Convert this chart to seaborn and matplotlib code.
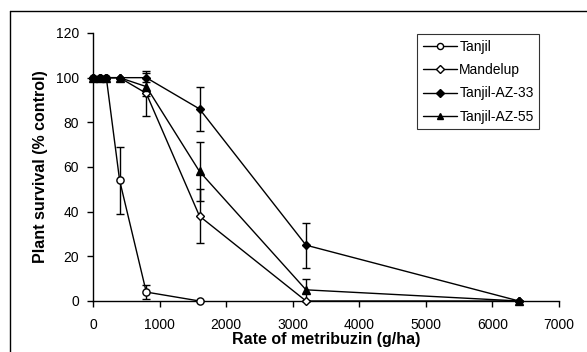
import matplotlib
matplotlib.use("Agg")
import matplotlib.pyplot as plt
import seaborn as sns
import pandas as pd
from matplotlib.lines import Line2D

# ---- data ----
rates_tanjil = [0, 100, 200, 400, 800, 1600]
tanjil = [100, 100, 100, 54, 4, 0]
tanjil_err = [0, 0, 0, 15, 3, 0]

rates = [0, 100, 200, 400, 800, 1600, 3200, 6400]
mandelup = [100, 100, 100, 100, 93, 38, 0, 0]
mandelup_err = [0, 0, 0, 0, 10, 12, 0, 0]
az33 = [100, 100, 100, 100, 100, 86, 25, 0]
az33_err = [0, 0, 0, 0, 2, 10, 10, 0]
az55 = [100, 100, 100, 100, 96, 58, 5, 0]
az55_err = [0, 0, 0, 0, 4, 13, 5, 0]

series_names = ["Tanjil", "Mandelup", "Tanjil-AZ-33", "Tanjil-AZ-55"]
x_ticks = [0, 1000, 2000, 3000, 4000, 5000, 6000, 7000]
y_ticks = [0, 20, 40, 60, 80, 100, 120]

sns.set_theme(style="white")
plt.rcParams["font.family"] = ["Liberation Sans", "DejaVu Sans"]
plt.rcParams["text.color"] = "black"
plt.rcParams["axes.labelcolor"] = "black"

fig = plt.figure(figsize=(5.87, 3.52), dpi=100)
ax = fig.add_axes([93 / 587, 1 - 301 / 352, (559 - 93) / 587, (301 - 33) / 352])

styles = [
    (rates_tanjil, tanjil, tanjil_err, "o", "white", 5.2),
    (rates, mandelup, mandelup_err, "D", "white", 4.4),
    (rates, az33, az33_err, "D", "black", 4.4),
    (rates, az55, az55_err, "^", "black", 5.8),
]

handles = []
for name, (xs, ys, es, m, fc, ms) in zip(series_names, styles):
    df = pd.DataFrame({"rate": xs, "surv": ys})
    ax.errorbar(xs, ys, yerr=es, fmt="none", ecolor="black", elinewidth=1,
                capsize=3.2, capthick=1, zorder=2, clip_on=False)
    sns.lineplot(data=df, x="rate", y="surv", ax=ax, color="black", lw=1,
                 marker=m, markersize=ms, markerfacecolor=fc,
                 markeredgecolor="black", markeredgewidth=1,
                 zorder=3, clip_on=False, legend=False)
    handles.append(Line2D([0], [0], color="black", lw=1, marker=m,
                          markersize=ms * 0.85, markerfacecolor=fc,
                          markeredgecolor="black", label=name))

ax.set_xlim(0, 7000)
ax.set_ylim(0, 120)
ax.set_xticks(x_ticks)
ax.set_yticks(y_ticks)
ax.tick_params(axis="both", direction="out", length=4, width=1, color="black",
               labelsize=10, labelcolor="black", bottom=True, left=True)
ax.tick_params(axis="x", pad=8)
ax.tick_params(axis="y", pad=6)
for s in ["top", "right"]:
    ax.spines[s].set_visible(False)
for s in ["left", "bottom"]:
    ax.spines[s].set_color("black")
    ax.spines[s].set_linewidth(1)

ax.set_xlabel("Rate of metribuzin (g/ha)", fontsize=11.5, fontweight="bold",
              labelpad=0)
ax.set_ylabel("Plant survival (% control)", fontsize=11.5, fontweight="bold",
              labelpad=6)

leg = ax.legend(handles=handles, loc="upper left",
                bbox_to_anchor=((417 - 93) / 466, (301 - 34) / 268),
                frameon=True, fancybox=False, fontsize=10, handlelength=2.5,
                handletextpad=0.15, labelspacing=0.68, borderpad=0.4,
                borderaxespad=0)
leg.get_frame().set_edgecolor("black")
leg.get_frame().set_linewidth(0.8)

# outer frame (left and top edges visible)
fig.add_artist(Line2D([10 / 587, 10 / 587], [0, 1 - 11 / 352],
                      color="black", lw=1, transform=fig.transFigure))
fig.add_artist(Line2D([10 / 587, 1], [1 - 11 / 352, 1 - 11 / 352],
                      color="black", lw=1, transform=fig.transFigure))

fig.savefig("out.png", dpi=100)
